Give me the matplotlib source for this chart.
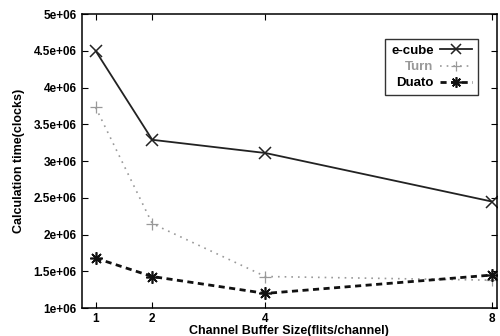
import matplotlib
matplotlib.use("Agg")
import matplotlib.pyplot as plt

# Data
buffer_sizes = [1, 2, 4, 8]
ecube_times = [4.50e6, 3.29e6, 3.11e6, 2.45e6]
turn_times = [3.73e6, 2.15e6, 1.43e6, 1.38e6]
duato_times = [1.68e6, 1.43e6, 1.20e6, 1.45e6]
y_ticks = [1e6, 1.5e6, 2e6, 2.5e6, 3e6, 3.5e6, 4e6, 4.5e6, 5e6]
y_tick_labels = ["1e+06", "1.5e+06", "2e+06", "2.5e+06", "3e+06",
                 "3.5e+06", "4e+06", "4.5e+06", "5e+06"]

plt.rcParams['font.family'] = ['Liberation Sans', 'DejaVu Sans']
plt.rcParams['font.weight'] = 'bold'

fig = plt.figure(figsize=(5.0, 3.36), dpi=100)
ax = fig.add_axes([0.163, 0.083, 0.831, 0.875])

ax.plot(buffer_sizes, ecube_times, color='#222222', lw=1.3, ls='-',
        marker='x', ms=9, mew=1.1, label='e-cube')
ax.plot(buffer_sizes, turn_times, color='#999999', lw=1.2, ls=(0, (1, 3)),
        marker='+', ms=9, mew=0.9, label='Turn')
ax.plot(buffer_sizes, duato_times, color='#111111', lw=2.0, ls=(0, (2.2, 1.6)),
        marker=(8, 2, 0), ms=9, mew=1.2, label='Duato')

ax.set_xlim(0.75, 8.09)
ax.set_ylim(1e6, 5e6)
ax.set_xticks(buffer_sizes)
ax.set_xticklabels([str(b) for b in buffer_sizes])
ax.set_yticks(y_ticks)
ax.set_yticklabels(y_tick_labels)
ax.tick_params(direction='in', top=True, right=True, length=4, labelsize=8.5)
for lbl in ax.get_xticklabels() + ax.get_yticklabels():
    lbl.set_fontweight('bold')
for s in ax.spines.values():
    s.set_linewidth(1.1)

ax.set_xlabel('Channel Buffer Size(flits/channel)', fontsize=9, fontweight='bold', labelpad=0)
ax.set_ylabel('Calculation time(clocks)', fontsize=9, fontweight='bold', labelpad=6)

# legend: labels on the left, line samples on the right (gnuplot style)
leg = ax.legend(loc='upper right', bbox_to_anchor=(0.97, 0.938), markerfirst=False,
                fontsize=9.5, frameon=True, fancybox=False, edgecolor='black',
                handlelength=2.4, borderpad=0.45, labelspacing=0.3, handletextpad=0.5,
                markerscale=0.85)
leg.get_frame().set_linewidth(1.0)
for txt in leg.get_texts():
    txt.set_ha('right')
leg.get_texts()[1].set_color('#999999')
leg._legend_box.align = 'right'

fig.savefig('out.png', dpi=100)
